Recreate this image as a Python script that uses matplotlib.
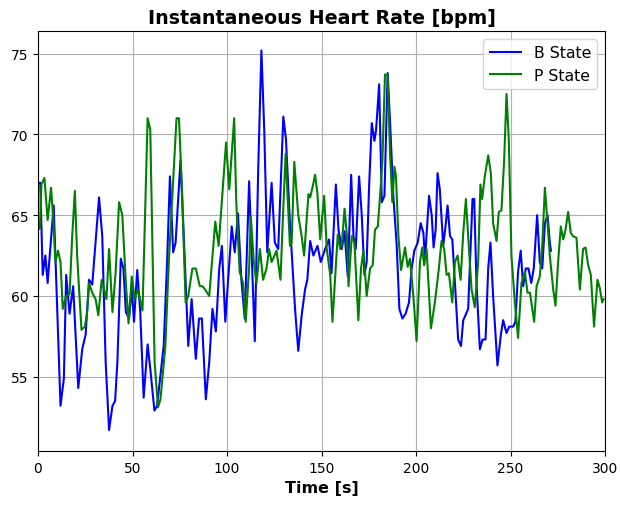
import numpy as np
import matplotlib
matplotlib.use("Agg")
import matplotlib.pyplot as plt

# B state (blue) - time [s] and heart rate [bpm]
t_b = [0, 1.2, 2.5, 3.9, 5.1, 6.2, 8.3, 11.9, 13.7, 14.9, 16.7, 18.6, 21.3, 23.4, 25.2,
       27, 28.7, 32.3, 34, 35.8, 37.6, 39.4, 40.8, 42, 43.8, 45.2, 46.5, 48.2, 49.6, 50.8,
       52.5, 54.1, 55.9, 58, 59.4, 61.6, 63, 64.8, 66.5, 68.3, 69.8, 71.5, 72.8, 75.4, 77.2,
       79.5, 81.3, 83.5, 85.2, 86.7, 88.8, 90.6, 92.3, 94.1, 95.9, 97.3, 99.1, 102.5, 104.1,
       105.8, 107.6, 109.4, 111.7, 112.9, 114.7, 116.5, 118.2, 119.7, 121.3, 123.6, 125.3,
       127.1, 129.8, 131.2, 133.3, 136, 137.7, 139.5, 141.3, 142.5, 144, 145.7, 147.9, 149.6,
       151.9, 154, 155.3, 157.6, 159, 160.7, 162.2, 163.9, 165.7, 166.9, 168.1, 169.9, 171.3,
       172.7, 173.9, 175.2, 176.6, 178, 178.9, 180.5, 181.9, 183.3, 185, 186.3, 188, 189.8,
       191.2, 192.8, 194.5, 196.3, 197.7, 199.1, 200.9, 202.5, 203.9, 204.8, 206.9, 208.3,
       209.3, 210.4, 211.4, 212.6, 214.4, 215.6, 216.7, 218, 219.2, 220.6, 222.3, 223.8, 225,
       226.2, 227.6, 228.9, 229.9, 230.8, 232, 233.8, 235.2, 236.8, 238.2, 239.4, 240.8,
       243.1, 244.9, 246.1, 247.9, 249.3, 251.4, 252.6, 254, 255.4, 256.7, 258.1, 259.5, 261,
       262.3, 264.1, 265.5, 266.8, 268.2, 269.6, 270.8, 271.4]
hr_b = [67.0, 67.0, 61.3, 62.5, 60.8, 62.5, 65.6, 53.2, 54.9, 61.3, 58.9, 60.6, 54.3, 56.7, 57.6,
        61.0, 60.7, 66.1, 63.7, 55.9, 51.7, 53.2, 53.5, 55.9, 62.3, 61.7, 59.0, 58.6, 60.5, 58.4,
        61.6, 59.0, 53.7, 57.0, 55.5, 52.9, 53.2, 55.1, 56.9, 62.1, 67.4, 62.7, 63.3, 68.4, 63.5,
        56.9, 59.8, 56.1, 58.6, 58.6, 53.6, 55.9, 59.2, 57.8, 61.7, 63.1, 58.4, 64.3, 62.7,
        65.1, 61.0, 58.6, 67.1, 63.1, 57.2, 67.8, 75.2, 70.3, 62.7, 67.0, 63.3,
        62.9, 71.1, 69.7, 64.5, 59.2, 56.6, 58.8, 60.4, 61.0, 63.4, 62.5, 63.1, 62.1,
        62.9, 63.5, 61.4, 66.9, 64.1, 62.9, 64.0, 61.2, 67.5, 63.7, 62.9, 67.4, 65.0,
        61.3, 62.1, 66.8, 70.7, 69.6, 70.3, 73.1, 65.8, 66.2, 73.8, 70.7, 66.2, 63.1,
        59.2, 58.6, 58.9, 59.6, 61.7, 62.8, 63.3, 64.5, 63.9, 62.3, 66.2, 65.0,
        63.0, 64.1, 67.6, 66.6, 63.1, 64.3, 65.6, 63.7, 63.5, 60.8, 57.3, 56.9, 58.5,
        58.8, 59.2, 63.1, 66.0, 66.0, 60.8, 56.7, 57.3, 57.3, 61.7, 63.3, 60.0,
        55.7, 57.6, 58.5, 57.7, 58.1, 58.1, 58.4, 61.5, 62.8, 60.6, 61.7, 61.7, 60.8,
        61.7, 65.0, 62.1, 61.7, 64.5, 65.0, 63.3, 62.8]

# P state (green)
t_p = [0, 1.0, 1.8, 3.4, 5.1, 6.9, 8.2, 9.2, 10.6, 11.9, 13.1, 14.9, 16.7, 18.1, 19.5, 20.7,
       23, 24.8, 26, 27, 28.7, 30.5, 31.9, 33.7, 36.2, 37.6, 39.4, 41.1, 42.9, 44.6, 46.5,
       47.9, 49.6, 51.2, 52.8, 55.3, 58, 59.4, 61.7, 63.5, 64.8, 67.4, 69.2, 73.3, 74.6, 76.3,
       78.1, 79.5, 81.7, 83.5, 85.6, 87, 88.4, 90.6, 93.8, 95.6, 99.5, 101.2, 103.8, 104.9,
       106.7, 108.5, 109.9, 111.7, 112.6, 114.2, 115.6, 117.4, 119.1, 120.9, 122.3, 123.6,
       124.4, 126.2, 128.3, 129.4, 131, 133.3, 134.2, 135.6, 137.7, 139.5, 140.8, 143.1, 144,
       145.4, 146.6, 147.8, 149.3, 151.4, 152.8, 154.6, 155.8, 157.5, 158.6, 159.9, 160.8,
       162.2, 163.4, 164.3, 166, 167.4, 169.5, 170.9, 172.2, 173.9, 175.7, 177.1, 178.3,
       179.8, 181, 182.2, 183.6, 185, 186.3, 187.5, 188.6, 189.4, 190.7, 192.1, 194.2, 195.6,
       196.8, 198.6, 200.3, 202.1, 203.3, 204.3, 205.6, 207.9, 210, 212.1, 213.5, 214.9,
       216.2, 217.4, 219.2, 220.6, 222, 223.6, 225, 226.4, 227.6, 229.4, 231.1, 232.9, 234.1,
       235, 236.4, 238.2, 239.6, 240.8, 242.6, 243.8, 245.2, 246.6, 247.9, 249.1, 250.5,
       252.3, 254, 255.8, 257.6, 259, 260.3, 262.5, 263.8, 265.5, 266.8, 268.2, 269.6, 270.8,
       272.6, 273.8, 275.2, 276.6, 277.9, 279.1, 280.5, 281.9, 283.1, 284.9, 286.7, 288.4,
       289.7, 291.1, 292.5, 294.2, 296, 297.2, 298.5, 299.2]
hr_p = [64.1, 64.2, 66.9, 67.3, 64.7, 66.7, 64.5, 62.1, 62.8, 62.1, 59.2, 60.0, 60.1, 63.7, 66.5, 62.5,
        57.9, 58.1, 59.0, 60.8, 60.2, 59.8, 58.8, 61.0, 59.8, 62.9, 59.0, 61.5, 65.8, 65.0, 60.8,
        58.3, 61.2, 59.8, 60.4, 59.1, 71.0, 70.3, 55.9, 53.1, 53.6, 56.9, 62.1, 71.0, 71.0, 66.2,
        59.6, 60.0, 61.7, 61.7, 60.6, 60.6, 60.4, 60.0, 64.6, 63.1, 69.5, 66.6, 71.0, 65.8,
        61.5, 60.8, 58.4, 61.7, 64.9, 62.1, 60.8, 62.9, 61.0, 61.7, 62.9, 62.1,
        62.3, 62.8, 61.0, 64.3, 68.8, 63.1, 63.3, 68.3, 65.0, 63.7, 62.5, 66.3, 66.1,
        66.8, 67.5, 66.4, 63.5, 66.2, 62.9, 61.3, 58.4, 61.7, 63.8, 62.9, 63.3,
        65.4, 63.8, 60.6, 63.7, 63.3, 58.5, 61.7, 62.8, 60.0, 61.7, 61.9, 64.1,
        64.3, 66.2, 68.3, 73.7, 73.7, 68.7, 65.8, 68.0, 67.4, 63.7, 61.6, 63.0, 61.8,
        62.3, 60.0, 57.2, 62.1, 63.0, 61.9, 62.9, 58.0, 59.6, 61.7, 63.4, 62.9,
        61.3, 61.4, 59.6, 62.1, 62.5, 61.0, 63.9, 66.0, 63.7, 60.4, 59.3, 62.1, 66.9,
        66.0, 67.4, 68.7, 67.6, 64.5, 63.4, 65.2, 65.3, 68.3, 72.5, 69.7, 62.5,
        59.6, 57.4, 60.8, 61.5, 60.2, 60.2, 58.4, 60.6, 61.2, 63.1, 66.7, 64.5, 62.5,
        60.4, 59.4, 62.1, 64.3, 63.5, 64.1, 65.2, 63.9, 63.7, 63.6, 60.4, 62.9,
        63.0, 61.9, 61.3, 58.1, 61.0, 60.5, 59.6, 59.8]

fig = plt.figure(figsize=(6.2, 5.06), dpi=100)
ax = fig.add_axes([38 / 620, 1 - 452 / 506, (605 - 38) / 620, (452 - 32) / 506])

ax.plot(t_b, hr_b, color='blue', lw=1.5, label='B State')
ax.plot(t_p, hr_p, color='green', lw=1.5, label='P State')

ax.set_xlim(0, 300)
ax.set_ylim(50.4, 76.4)
ax.set_yticks([55, 60, 65, 70, 75])
ax.grid(True)
ax.set_title('Instantaneous Heart Rate [bpm]', fontsize=13.7, fontweight='bold')
ax.set_xlabel('Time [s]', fontsize=11.5, fontweight='bold')
ax.legend(loc='upper right', fontsize=11.3)

fig.savefig('out.png', dpi=100)
